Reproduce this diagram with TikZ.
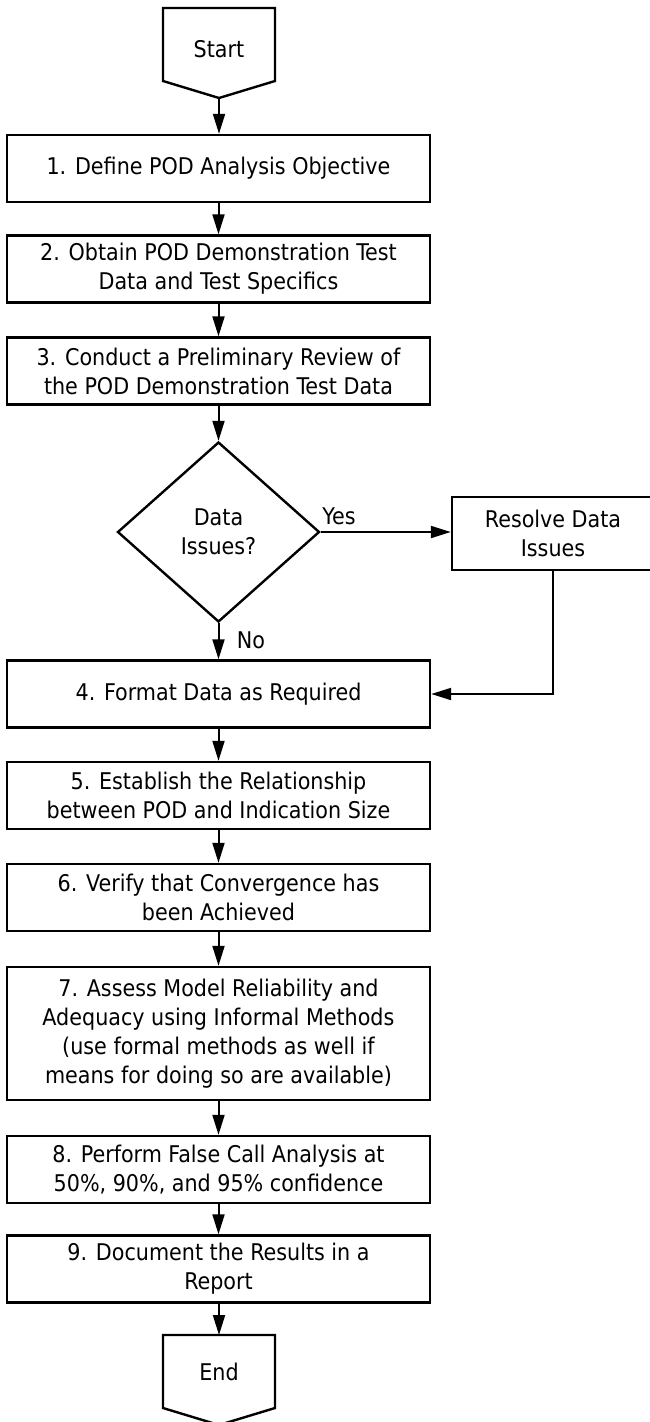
\documentclass[tikz,border=0pt]{standalone}
\usepackage{fontspec}
\setmainfont{DejaVu Sans Condensed}
\usetikzlibrary{shapes.geometric,arrows.meta}
\begin{document}
\begin{tikzpicture}[x=1pt,y=1pt,
 txt/.style={font=\fontsize{23}{29}\selectfont, align=center, inner sep=0pt},
 box/.style={txt, draw, line width=2.4pt, minimum width=423pt, minimum height=67pt},
 shp/.style={draw, line width=2.4pt, line join=miter},
 arr/.style={line width=2pt, -{Triangle[length=20pt,width=12pt]}},
 ln/.style={line width=2pt}]
\useasboundingbox (0,0) rectangle (650,-1422);
% start
\draw[shp] (163,-8) -- (275,-8) -- (275,-81) -- (219,-98) -- (163,-81) -- cycle;
\node[txt] (start) at (219,-49) {Start};
\coordinate (starttip) at (219,-98);
% boxes
\node[box] (b1) at (218.5,-168.5) {1. Define POD Analysis Objective};
\node[box] (b2) at (218.5,-269) {2. Obtain POD Demonstration Test\\Data and Test Specifics};
\node[box] (b3) at (218.5,-371) {3. Conduct a Preliminary Review of\\the POD Demonstration Test Data};
\node[txt, shape=diamond, draw, line width=2.4pt, minimum width=202pt, minimum height=180pt] (dia) at (218.5,-532) {Data\\Issues?};
\node[txt, draw, line width=2.4pt, minimum width=202pt, minimum height=73pt] (res) at (553,-533.5) {Resolve Data\\Issues};
\node[box] (b4) at (218.5,-694) {4. Format Data as Required};
\node[box] (b5) at (218.5,-795.5) {5. Establish the Relationship\\between POD and Indication Size};
\node[box] (b6) at (218.5,-897.5) {6. Verify that Convergence has\\been Achieved};
\node[box, minimum height=133pt] (b7) at (218.5,-1033.5) {7. Assess Model Reliability and\\Adequacy using Informal Methods\\(use formal methods as well if\\means for doing so are available)};
\node[box] (b8) at (218.5,-1169.5) {8. Perform False Call Analysis at\\50\%, 90\%, and 95\% confidence};
\node[box] (b9) at (218.5,-1269) {9. Document the Results in a\\Report};
% end
\draw[shp] (163,-1335) -- (275,-1335) -- (275,-1408) -- (219,-1425) -- (163,-1408) -- cycle;
\node[txt] (end) at (219,-1372) {End};
\coordinate (endtop) at (219,-1335);
% labels
\node[txt] (yes) at (339,-516) {Yes};
\node[txt] (no) at (251,-640) {No};
% connectors
\draw[arr] (starttip) -- (b1.north -| starttip);
\draw[arr] (b1.south) -- (b2.north);
\draw[arr] (b2.south) -- (b3.north);
\draw[arr] (b3.south) -- (dia.north);
\draw[arr] (dia.east) -- (dia.east -| res.west);
\draw[arr] (dia.south) -- (b4.north);
\draw[arr] (res.south) |- (b4.east);
\draw[arr] (b4.south) -- (b5.north);
\draw[arr] (b5.south) -- (b6.north);
\draw[arr] (b6.south) -- (b7.north);
\draw[arr] (b7.south) -- (b8.north);
\draw[arr] (b8.south) -- (b9.north);
\draw[arr] (b9.south -| endtop) -- (endtop);
\end{tikzpicture}
\end{document}
